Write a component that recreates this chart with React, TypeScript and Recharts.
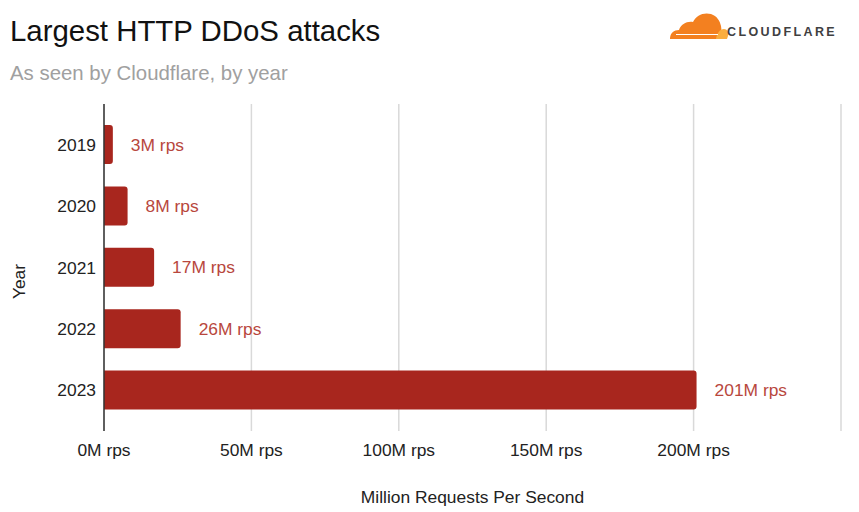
import { Bar, BarChart, CartesianGrid, LabelList, XAxis, YAxis } from "recharts"

// valores (millones de req/s)
const years = ["2019", "2020", "2021", "2022", "2023"]
const peakRps = [3, 8, 17, 26, 201]
const xTicks = [0, 50, 100, 150, 200, 250]

const data = years.map((year, i) => ({ year, rps: peakRps[i] }))

const FONT = "'Liberation Sans', Arial, sans-serif"
const FS = 17.4

function CloudflareLogo() {
    return (
        <svg width={180} height={40} style={{ position: "absolute", left: 666, top: 8 }}>
            <path
                d="M4 31 C4 25 8 22 13 22 C15 16 21 13 27 14 C30 7 38 4 45 6 C51 8 54 13 55 18 C56 22 55 27 53 31 Z"
                fill="#f38020"
            />
            <path
                d="M50 31 C51 25 54 21 58 21 C61 21 63 24 62 28 L61 31 Z"
                fill="#faae40"
            />
            <line x1={10} y1={26.5} x2={52} y2={26.5} stroke="#fff" strokeWidth={1.2} />
            <text
                x={61}
                y={28}
                fontFamily={FONT}
                fontWeight={700}
                fontSize={12.5}
                letterSpacing={2.4}
                fill="#404041"
            >
                CLOUDFLARE
            </text>
        </svg>
    )
}

export default function App() {
    return (
        <div
            style={{
                position: "absolute",
                left: 0,
                top: 0,
                width: 859,
                height: 512,
                background: "#ffffff",
                fontFamily: FONT,
            }}
        >
            <div style={{ position: "absolute", left: 10, top: 14, fontSize: 29.4, color: "#111" }}>
                Largest HTTP DDoS attacks
            </div>
            <div style={{ position: "absolute", left: 10, top: 62, fontSize: 20.4, color: "#a0a0a0" }}>
                As seen by Cloudflare, by year
            </div>
            <CloudflareLogo />

            <BarChart
                width={859}
                height={512}
                data={data}
                layout="vertical"
                margin={{ top: 104, right: 18, bottom: 51, left: 0 }}
                barSize={39}
            >
                <CartesianGrid horizontal={false} stroke="#d9d9d9" strokeWidth={1.5} />
                <XAxis
                    type="number"
                    domain={[0, 250]}
                    ticks={xTicks}
                    height={30}
                    axisLine={false}
                    tickLine={false}
                    tickSize={0}
                    tickMargin={13}
                    tick={{ fontSize: FS, fill: "#222", fontFamily: FONT }}
                    tickFormatter={(v: number) => (v === 250 ? "" : `${v}M rps`)}
                    label={{
                        value: "Million Requests Per Second",
                        position: "bottom",
                        offset: 30,
                        fontSize: FS,
                        fill: "#222",
                        fontFamily: FONT,
                    }}
                />
                <YAxis
                    type="category"
                    dataKey="year"
                    width={104}
                    padding={{ top: 10, bottom: 10 }}
                    axisLine={{ stroke: "#333", strokeWidth: 1.5 }}
                    tickLine={false}
                    tickSize={0}
                    tickMargin={8}
                    tick={{ fontSize: FS, fill: "#222", fontFamily: FONT }}
                    label={{
                        value: "Year",
                        angle: -90,
                        position: "center",
                        dx: -33,
                        dy: 14,
                        fontSize: FS,
                        fill: "#222",
                        fontFamily: FONT,
                    }}
                />
                <Bar dataKey="rps" fill="#a8261e" radius={[0, 3, 3, 0]} isAnimationActive={false}>
                    <LabelList
                        dataKey="rps"
                        position="right"
                        offset={18}
                        formatter={(v: any) => `${v}M rps`}
                        style={{ fontSize: FS, fill: "#b8473d", fontFamily: FONT }}
                    />
                </Bar>
            </BarChart>
        </div>
    )
}
